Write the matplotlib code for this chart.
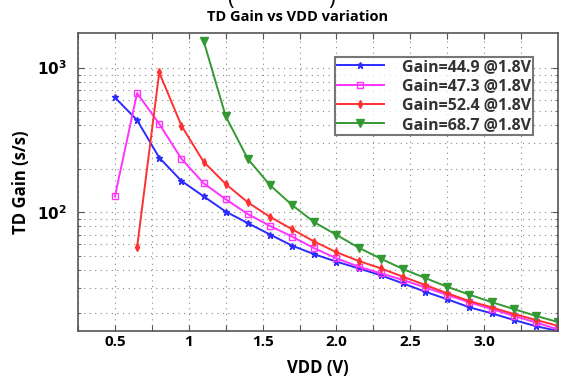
import matplotlib
matplotlib.use("Agg")
import matplotlib.pyplot as plt
from matplotlib.ticker import FixedLocator, FixedFormatter, NullFormatter
import numpy as np

plt.rcParams['font.family'] = ['Open Sans', 'DejaVu Sans']

vdd_blue = [0.5, 0.65, 0.8, 0.95, 1.1, 1.25, 1.4, 1.55, 1.7, 1.85, 2.0, 2.15, 2.3, 2.45, 2.6, 2.75, 2.9, 3.05, 3.2, 3.35, 3.5]
gain_blue = [625, 435, 239, 165, 129, 101, 84, 70, 58.6, 51.1, 45.4, 40.8, 36.5, 32.1, 28.1, 24.9, 21.9, 19.9, 17.9, 16.2, 15.0]

vdd_magenta = [0.5, 0.65, 0.8, 0.95, 1.1, 1.25, 1.4, 1.55, 1.7, 1.85, 2.0, 2.15, 2.3, 2.45, 2.6, 2.75, 2.9, 3.05, 3.2, 3.35, 3.5]
gain_magenta = [129, 670, 410, 235, 159, 123, 97, 80.3, 67.7, 56.2, 47.9, 41.9, 37.7, 33.9, 30.1, 26.7, 23.7, 21.3, 19.1, 17.2, 15.4]

vdd_red = [0.65, 0.8, 0.95, 1.1, 1.25, 1.4, 1.55, 1.7, 1.85, 2.0, 2.15, 2.3, 2.45, 2.6, 2.75, 2.9, 3.05, 3.2, 3.35, 3.5]
gain_red = [57, 932, 399, 224, 157, 117, 92.8, 76.2, 62.5, 52.8, 45.9, 40.8, 35.7, 31.3, 27.4, 24.2, 21.9, 19.7, 17.9, 16.3]

vdd_green = [1.1, 1.25, 1.4, 1.55, 1.7, 1.85, 2.0, 2.15, 2.3, 2.45, 2.6, 2.75, 2.9, 3.05, 3.2, 3.35, 3.5]
gain_green = [1550, 463, 234, 154, 112, 85.2, 69.6, 56.8, 47.6, 40.4, 35.0, 30.4, 26.8, 23.8, 21.3, 19.1, 17.3]

labels = ["Gain=44.9 @1.8V", "Gain=47.3 @1.8V", "Gain=52.4 @1.8V", "Gain=68.7 @1.8V"]

x_ticks = [0.25, 0.5, 0.75, 1.0, 1.25, 1.5, 1.75, 2.0, 2.25, 2.5, 2.75, 3.0, 3.25]
x_ticklabels = ["", "0.5", "", "1", "", "1.5", "", "2.0", "", "2.5", "", "3.0", ""]

fig = plt.figure(figsize=(5.62, 3.76), dpi=100)
ax = fig.add_axes([0.1388, 0.1197, 0.8541, 0.7925])

c_blue = '#2b2bff'
c_mag = '#ff33ff'
c_red = '#ff3030'
c_green = '#339933'

ax.plot(vdd_blue, gain_blue, color=c_blue, lw=1.4, marker='*', ms=5, mfc=c_blue, mec=c_blue, label=labels[0])
ax.plot(vdd_magenta, gain_magenta, color=c_mag, lw=1.4, marker='s', ms=5, mfc='none', mec=c_mag, label=labels[1])
ax.plot(vdd_red, gain_red, color=c_red, lw=1.4, marker='d', ms=4, mfc=c_red, mec=c_red, label=labels[2])
ax.plot(vdd_green, gain_green, color=c_green, lw=1.4, marker='v', ms=5.5, mfc=c_green, mec=c_green, label=labels[3])

ax.set_yscale('log')
ax.set_xlim(0.25, 3.5)
ax.set_ylim(15, 1750)

ax.xaxis.set_major_locator(FixedLocator(x_ticks))
ax.xaxis.set_major_formatter(FixedFormatter(x_ticklabels))
ax.yaxis.set_major_locator(FixedLocator([100, 1000]))
ax.yaxis.set_major_formatter(FixedFormatter([r'$\mathbf{10^2}$', r'$\mathbf{10^3}$']))
minor = [v * d for d in (10, 100, 1000) for v in range(2, 10)]
ax.yaxis.set_minor_locator(FixedLocator(minor))
ax.yaxis.set_minor_formatter(NullFormatter())

ax.grid(True, which='both', linestyle=(0, (1, 4)), color='#888888', lw=0.8)
ax.tick_params(which='both', direction='in', top=True, right=True, color='#555555')
ax.tick_params(which='major', length=4, labelsize=11)
ax.tick_params(axis='x', which='major', pad=3)
ax.tick_params(axis='y', which='major', pad=8)
ax.tick_params(which='minor', length=2)
for lab in ax.get_xticklabels():
    lab.set_fontweight('bold')
for sp in ax.spines.values():
    sp.set_color('#555555')
    sp.set_linewidth(1.2)

ax.set_xlabel('VDD (V)', fontsize=12, fontweight='bold', labelpad=7)
ax.set_ylabel('TD Gain (s/s)', fontsize=12, fontweight='bold', labelpad=5)
fig.text(298 / 562, 1 - 17 / 376, 'TD Gain vs VDD variation', fontsize=10.5, fontweight='bold',
         ha='center', va='center')

leg = ax.legend(loc='upper right', bbox_to_anchor=(0.948, 0.919), fontsize=11.5, frameon=True,
                fancybox=False, edgecolor='#555555', handlelength=3.0, borderpad=0.12,
                labelspacing=0.2, handletextpad=1.1, borderaxespad=0)
leg.get_frame().set_linewidth(1.5)
for t in leg.get_texts():
    t.set_fontweight('bold')
    t.set_color('#333333')

fig.text(0.41, 1.0, '(', fontsize=16, va='center', ha='center')
fig.text(0.59, 1.0, ')', fontsize=16, va='center', ha='center')

fig.savefig('out.png', dpi=100)
